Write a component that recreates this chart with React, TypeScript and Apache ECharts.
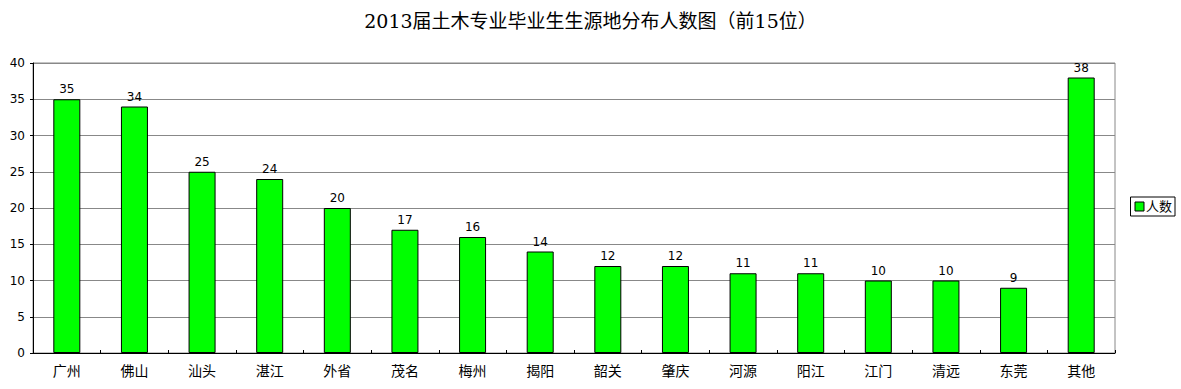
import React, { useEffect, useRef } from "react";
import * as echarts from "echarts";

const titleText = "2013届土木专业毕业生生源地分布人数图（前15位）";
const seriesName = "人数";
const categories = ["广州", "佛山", "汕头", "湛江", "外省", "茂名", "梅州", "揭阳", "韶关", "肇庆", "河源", "阳江", "江门", "清远", "东莞", "其他"];
const values = [35, 34, 25, 24, 20, 17, 16, 14, 12, 12, 11, 11, 10, 10, 9, 38];

const FONT = "'DejaVu Sans', 'Noto Sans CJK SC', sans-serif";

export default function App() {
  const ref = useRef<HTMLDivElement>(null);
  useEffect(() => {
    const chart = echarts.init(ref.current!, null, { renderer: "svg" });
    chart.setOption({
      animation: false,
      backgroundColor: "#ffffff",
      title: {
        text: titleText,
        left: "center",
        top: 6,
        textStyle: { fontSize: 19, fontWeight: "normal", color: "#000", fontFamily: "'DejaVu Serif', 'Noto Sans CJK SC', serif" },
      },
      legend: {
        data: [seriesName],
        orient: "vertical",
        right: 6,
        top: 197,
        icon: "rect",
        itemWidth: 9,
        itemHeight: 9,
        itemGap: 0,
        padding: [3, 3, 3, 4],
        borderColor: "#000",
        borderWidth: 1,
        textStyle: { fontSize: 13, color: "#000", fontFamily: FONT, padding: [0, 0, 0, -3] },
        itemStyle: { borderColor: "#000", borderWidth: 1 },
      },
      grid: {
        left: 33,
        right: 66,
        top: 63,
        bottom: 36,
        show: true,
        borderColor: "#888",
        borderWidth: 1,
      },
      xAxis: {
        type: "category",
        data: categories,
        boundaryGap: true,
        axisLine: { lineStyle: { color: "#000", width: 1 } },
        axisTick: { show: true, inside: true, length: 3, lineStyle: { color: "#000" } },
        axisLabel: { color: "#000", fontSize: 14, margin: 11, fontFamily: FONT, interval: 0 },
      },
      yAxis: {
        type: "value",
        min: 0,
        max: 40,
        interval: 5,
        axisLine: { show: true, lineStyle: { color: "#000", width: 1 } },
        axisTick: { show: true, length: 3, lineStyle: { color: "#000" } },
        axisLabel: { color: "#000", fontSize: 12, margin: 8, fontFamily: FONT },
        splitLine: { show: true, lineStyle: { color: "#888", width: 1 } },
      },
      series: [
        {
          name: seriesName,
          type: "bar",
          data: values,
          barWidth: 27,
          itemStyle: { color: "#00ff00", borderColor: "#000", borderWidth: 1 },
          label: { show: true, position: "top", color: "#000", fontSize: 12, fontFamily: FONT, distance: 4 },
        },
      ],
    });
    return () => chart.dispose();
  }, []);
  return <div ref={ref} style={{ width: 1181, height: 389, position: "absolute", left: 0, top: 0 }} />;
}
